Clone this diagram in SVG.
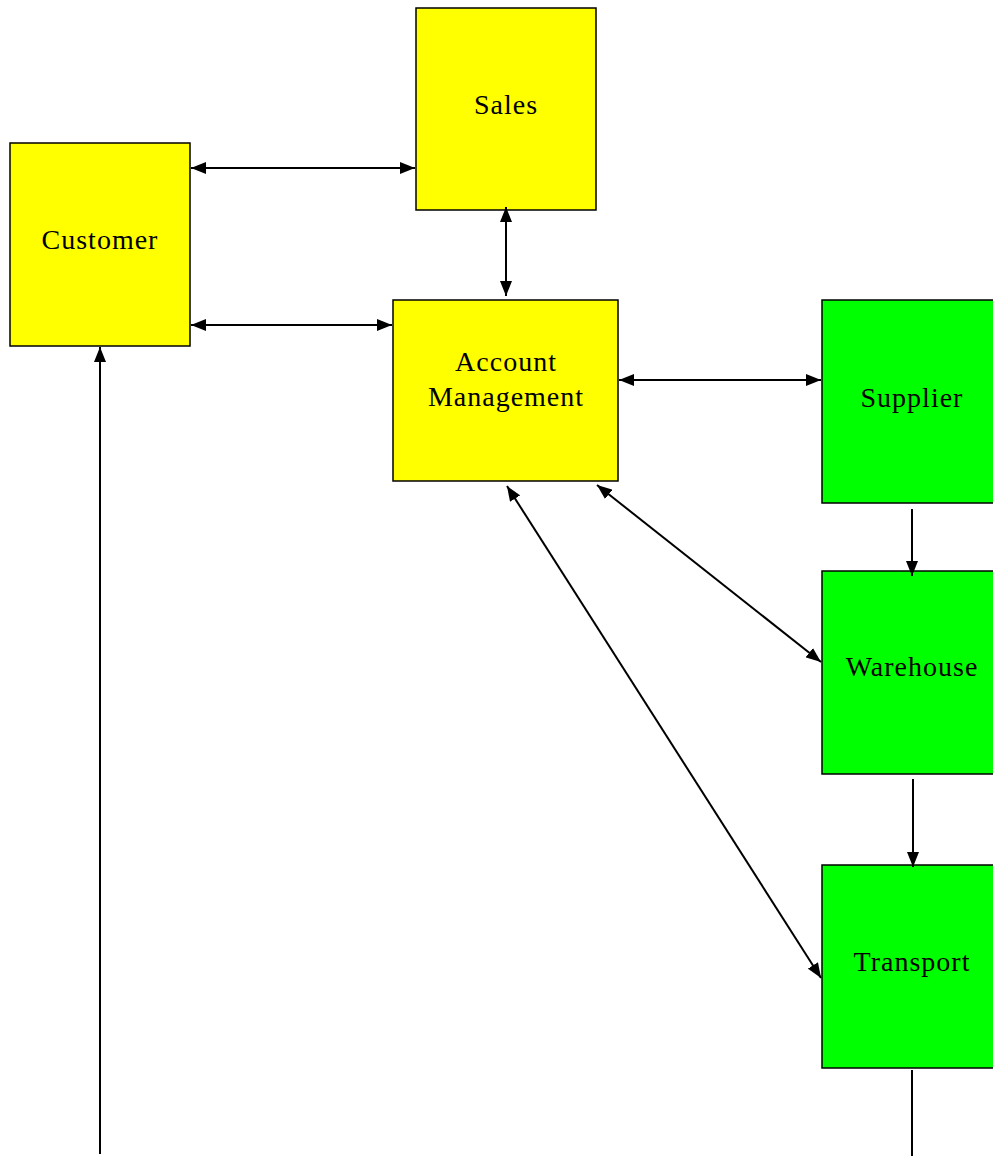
<svg xmlns="http://www.w3.org/2000/svg" width="993" height="1156" viewBox="0 0 993 1156">
<style>
.y{fill:#ffff00;stroke:#000;stroke-width:1.5}
.g{fill:#00ff00;stroke:#000;stroke-width:1.5}
text{font-family:"Liberation Serif","Times New Roman",serif;font-size:28px;letter-spacing:1px;fill:#000;text-anchor:middle}
.c line{stroke:#000;stroke-width:2}
</style>
<defs>
<marker id="a" viewBox="0 0 15 12" refX="15" refY="6" markerWidth="15" markerHeight="12" markerUnits="userSpaceOnUse" orient="auto-start-reverse">
<path d="M0,0 L15,6 L0,12 Z" fill="#000"/>
</marker>
</defs>
<rect width="993" height="1156" fill="#fff"/>
<g id="sales"><rect class="y" x="416" y="8" width="180" height="202"/><text x="506" y="114">Sales</text></g>
<g id="customer"><rect class="y" x="10" y="143" width="180" height="203"/><text x="100" y="249">Customer</text></g>
<g id="account"><rect class="y" x="393" y="300" width="225" height="181"/><text x="506" y="371">Account</text><text x="506" y="406">Management</text></g>
<g id="supplier"><rect class="g" x="822" y="300" width="180" height="203"/><text x="912" y="407">Supplier</text></g>
<g id="warehouse"><rect class="g" x="822" y="571" width="180" height="203"/><text x="912" y="676">Warehouse</text></g>
<g id="transport"><rect class="g" x="822" y="865" width="180" height="203"/><text x="912" y="971">Transport</text></g>
<g class="c" id="connectors">
<line x1="191" y1="168" x2="415" y2="168" marker-start="url(#a)" marker-end="url(#a)"/>
<line x1="191" y1="325" x2="392" y2="325" marker-start="url(#a)" marker-end="url(#a)"/>
<line x1="506" y1="207" x2="506" y2="296" marker-start="url(#a)" marker-end="url(#a)"/>
<line x1="619" y1="380" x2="821" y2="380" marker-start="url(#a)" marker-end="url(#a)"/>
<line x1="597" y1="485" x2="821" y2="662" marker-start="url(#a)" marker-end="url(#a)"/>
<line x1="507" y1="486" x2="821" y2="978" marker-start="url(#a)" marker-end="url(#a)"/>
<line x1="912" y1="509" x2="912" y2="576" marker-end="url(#a)"/>
<line x1="913" y1="779" x2="913" y2="867" marker-end="url(#a)"/>
<line x1="100" y1="1154" x2="100" y2="347" marker-end="url(#a)"/>
<line x1="912" y1="1070" x2="912" y2="1156"/>
</g>
</svg>
